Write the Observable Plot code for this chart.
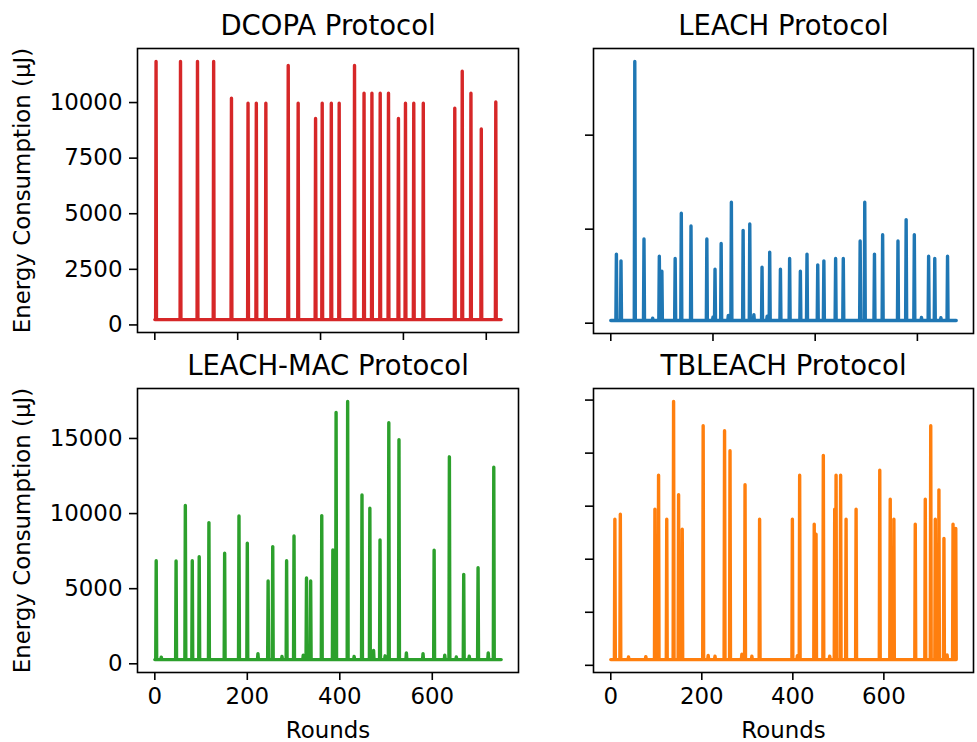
<!DOCTYPE html>
<html><head><meta charset="utf-8">
<script src="https://cdn.jsdelivr.net/npm/d3@7"></script>
<script src="https://cdn.jsdelivr.net/npm/@observablehq/plot@0.6"></script>
<style>
body{margin:0;background:#fff;}
#fig{position:relative;width:977px;height:742px;background:#fff;overflow:hidden;}
#fig > svg{position:absolute;}
</style></head><body><div id="fig"></div>
<script>
// ---- data ----
const protocols = ["DCOPA Protocol", "LEACH Protocol", "LEACH-MAC Protocol", "TBLEACH Protocol"];
const colors = ["#d62728", "#1f77b4", "#2ca02c", "#ff7f0e"];
const roundCounts = [837, 677, 750, 760];
const baselines = [240, 140, 280, 270];

const dcopaSpikeRounds = [3,62,103,142,185,225,245,268,322,346,388,404,426,445,482,505,524,544,564,588,605,625,648,724,742,763,788,823];
const dcopaSpikeValues = [11850,11850,11850,11850,10195,9970,9970,9970,11670,9970,9280,9970,9970,9970,11670,10420,10420,10420,10420,9280,9970,9970,9970,9745,11410,10420,8810,10030];
const dcopaBumpRounds = [];
const dcopaBumpValues = [];

const leachSpikeRounds = [11,20,47,65,95,100,126,138,157,188,204,216,236,259,272,296,311,332,350,371,384,405,417,440,455,488,497,516,532,562,578,594,622,634,659];
const leachSpikeValues = [3672,3315,13920,4474,3565,2763,3440,5847,5170,4474,2870,4242,6435,4938,5276,2977,3779,2870,3440,2763,3672,3102,3315,3440,3440,4367,6435,3672,4706,4367,5508,4706,3565,3440,3565];
const leachBumpRounds = [82,200,230,280,306,608,646];
const leachBumpValues = [270,320,410,450,370,300,290];

const leachMacSpikeRounds = [3,46,66,81,96,117,151,182,200,245,255,285,301,328,337,361,385,392,417,448,465,487,506,528,604,637,668,699,733];
const leachMacSpikeValues = [6867,6844,10533,6867,7133,9400,7356,9844,8022,5511,7800,6867,8511,5711,5511,9867,7578,16733,17467,11244,10356,8244,16044,14911,7556,13778,5956,6400,13089];
const leachMacBumpRounds = [14,223,275,321,431,473,498,544,580,627,652,680,721];
const leachMacBumpValues = [440,670,490,580,490,890,530,730,670,580,450,510,730];

const tbleachSpikeRounds = [9,21,97,105,123,138,149,157,203,250,262,295,327,399,415,447,451,467,492,495,505,517,539,591,614,622,669,691,703,713,721,732,752,758];
const tbleachSpikeValues = [6887,7123,7358,8962,6887,12437,8035,6415,11289,11053,10110,8506,6887,6887,8962,6651,6179,9890,7358,8962,8962,6887,7358,9198,7830,6887,6651,7830,11289,6887,8270,5975,6651,6447];
const tbleachBumpRounds = [39,77,214,229,288,310,410,481,739];
const tbleachBumpValues = [390,410,460,425,520,425,456,425,490];

const xTicksList = [[0,200,400,600,800],[0,200,400,600],[0,200,400,600],[0,200,400,600]];
const yTicksList = [[0,2500,5000,7500,10000],[0,5000,10000],[0,5000,10000,15000],[0,2500,5000,7500,10000,12500]];
const xLabel = "Rounds";
const yLabel = "Energy Consumption (μJ)";

// ---- build series ----
function buildSeries(n, base, spikeR, spikeV, bumpR, bumpV) {
  const vals = new Array(n).fill(base);
  bumpR.forEach((r, i) => { vals[r] = bumpV[i]; });
  spikeR.forEach((r, i) => { vals[r] = spikeV[i]; });
  return vals.map((v, r) => ({round: r, energy: v}));
}
const series = [
  buildSeries(roundCounts[0], baselines[0], dcopaSpikeRounds, dcopaSpikeValues, dcopaBumpRounds, dcopaBumpValues),
  buildSeries(roundCounts[1], baselines[1], leachSpikeRounds, leachSpikeValues, leachBumpRounds, leachBumpValues),
  buildSeries(roundCounts[2], baselines[2], leachMacSpikeRounds, leachMacSpikeValues, leachMacBumpRounds, leachMacBumpValues),
  buildSeries(roundCounts[3], baselines[3], tbleachSpikeRounds, tbleachSpikeValues, tbleachBumpRounds, tbleachBumpValues)
];

// ---- layout ----
const boxes = [
  {left: 0,   top: 0,   width: 555, height: 348, mL: 137, mR: 37, mT: 48, mB: 16},
  {left: 555, top: 0,   width: 422, height: 348, mL: 38,  mR: 4,  mT: 48, mB: 15},
  {left: 0,   top: 348, width: 555, height: 394, mL: 137, mR: 37, mT: 40, mB: 70},
  {left: 555, top: 348, width: 422, height: 394, mL: 38,  mR: 4,  mT: 40, mB: 70}
];

const fig = document.getElementById("fig");
const fmt = d => String(d);
const blank = () => "";

series.forEach((data, i) => {
  const b = boxes[i];
  const isLeft = i % 2 === 0;
  const isBottom = i >= 2;
  const n = data.length - 1;
  const [ymin, ymax] = d3.extent(data, d => d.energy);
  const ypad = (ymax - ymin) * 0.05;
  const marks = [
    Plot.line(data, {x: "round", y: "energy", stroke: colors[i], strokeWidth: 3.4}),
    Plot.frame({stroke: "black", strokeWidth: 1.6}),
    Plot.axisX({ticks: xTicksList[i], tickSize: 8, tickPadding: 7, strokeWidth: 1.6, tickFormat: isBottom ? fmt : blank, label: null, fill: "black", stroke: "black"}),
    Plot.axisY({ticks: yTicksList[i], tickSize: 8, tickPadding: 7, strokeWidth: 1.6, tickFormat: isLeft ? fmt : blank, label: null, fill: "black", stroke: "black"}),
    Plot.text([protocols[i]], {text: d => d, frameAnchor: "top", dy: -13.7, lineAnchor: "bottom", fontSize: 27.5, fill: "black"})
  ];
  if (isLeft) marks.push(Plot.text([yLabel], {text: d => d, frameAnchor: "left", textAnchor: "middle", rotate: -90, dx: -114.6, fontSize: 22.9, fill: "black"}));
  if (isBottom) marks.push(Plot.text([xLabel], {text: d => d, frameAnchor: "bottom", dy: 65, lineAnchor: "bottom", fontSize: 22.9, fill: "black"}));
  const chart = Plot.plot({
    width: b.width, height: b.height,
    marginLeft: b.mL, marginRight: b.mR, marginTop: b.mT, marginBottom: b.mB,
    style: {fontFamily: "DejaVu Sans", fontSize: "22.9px", background: "transparent", overflow: "visible", color: "black"},
    x: {domain: [-0.05 * n, n * 1.05]},
    y: {domain: [ymin - ypad, ymax + ypad]},
    marks
  });
  chart.style.left = b.left + "px";
  chart.style.top = b.top + "px";
  fig.appendChild(chart);
});
</script></body></html>
